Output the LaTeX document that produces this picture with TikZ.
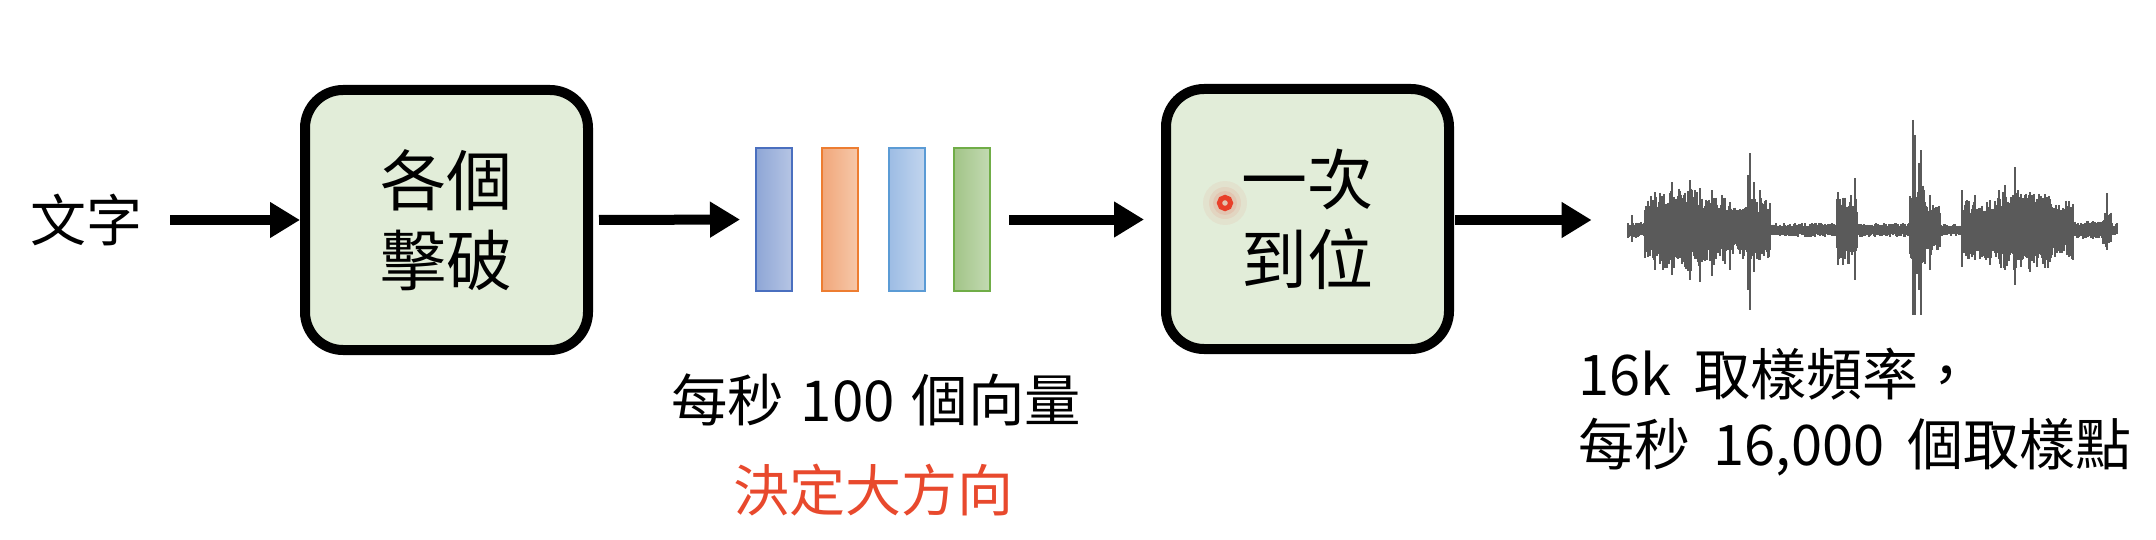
\documentclass[tikz,border=0pt]{standalone}
\usepackage{fontspec}
\newfontfamily\cjk{Noto Sans CJK TC}
\newfontfamily\cjkw{Noto Sans CJK TC}[WordSpace=1.35]
\usetikzlibrary{arrows.meta,shadings}
\definecolor{boxfill}{HTML}{E2EDD9}
\definecolor{capred}{HTML}{E8492D}
\definecolor{wavegray}{HTML}{5A5A5A}
\definecolor{dotred}{HTML}{E8402A}
\definecolor{blueA}{HTML}{8EA6D6}\definecolor{blueB}{HTML}{B6C5E4}\definecolor{blueE}{HTML}{4A6FBF}
\definecolor{oraA}{HTML}{F1A77A}\definecolor{oraB}{HTML}{F6C8AA}\definecolor{oraE}{HTML}{ED7D31}
\definecolor{lbA}{HTML}{9CBCE4}\definecolor{lbB}{HTML}{C2D5EE}\definecolor{lbE}{HTML}{5B9BD5}
\definecolor{grA}{HTML}{A2C487}\definecolor{grB}{HTML}{C3DAB3}\definecolor{grE}{HTML}{70AD47}
\tikzset{
  flowarrow/.style={line width=5pt,-{Triangle[length=15pt,width=17pt]}},
  bigbox/.style={draw=black,line width=5pt,rounded corners=19pt,fill=boxfill,
    minimum width=141.5pt,minimum height=130pt,inner sep=0pt,align=center,
    font=\cjk\fontsize{33}{40}\selectfont},
  vecbar/.style={line width=1pt,minimum width=18pt,minimum height=71.5pt,inner sep=0pt},
  wave/.style={wavegray,line width=0.8pt},
  captext/.style={inner sep=0pt,font=\cjk\fontsize{28}{34}\selectfont},
  capwide/.style={inner sep=0pt,font=\cjkw\fontsize{28.2}{34}\selectfont},
  righttext/.style={inner sep=0pt,align=left,font=\cjkw\fontsize{28}{35}\selectfont},
}
\begin{document}
\begin{tikzpicture}[x=0.5pt,y=-0.5pt]
\useasboundingbox (0,0) rectangle (2156,540);
% input text
\node[captext] (txt) at (86,220) {文字};
% boxes
\node[bigbox] (b1) at (446.5,220) {各個\\擊破};
\node[bigbox] (b2) at (1307.5,219) {一次\\到位};
% vector bars
\node[vecbar,draw=blueE,left color=blueA,right color=blueB] (v1) at (774,219.5) {};
\node[vecbar,draw=oraE,left color=oraA,right color=oraB] (v2) at (840,219.5) {};
\node[vecbar,draw=lbE,left color=lbA,right color=lbB] (v3) at (906.5,219.5) {};
\node[vecbar,draw=grE,left color=grA,right color=grB] (v4) at (972,219.5) {};
% waveform region
\node[inner sep=0pt,minimum width=244.5pt,minimum height=100pt] (wav) at (1872.5,230) {};
\begin{scope}
\pgfmathsetseed{11}
\draw[wavegray,line width=2.5pt] (1628,230) -- (2117,230);
\foreach \a/\b/\amp in {1628/1645/8, 1645/1660/36, 1660/1700/42, 1700/1725/35, 1725/1743/25,
  1743/1770/32, 1770/1837/7, 1837/1857/35, 1857/1910/7, 1910/1925/45, 1925/1940/26, 1940/1962/6,
  1962/1998/30, 1998/2050/40, 2050/2073/30, 2073/2103/9, 2103/2111/18, 2111/2117/7}{
  \foreach \x in {\a,...,\b}{
    \pgfmathsetmacro\h{\amp*(0.5+0.5*rnd)}
    \pgfmathsetmacro\d{\amp*(0.5+0.5*rnd)}
    \draw[wave] (\x,230-\h) -- (\x,230+\d);
  }
}
\foreach \x/\t/\bb in {1632/15/12, 1655/38/40, 1672/48/45, 1690/50/50, 1700/42/52, 1712/40/46,
  1730/28/40, 1748/55/60, 1750/77/80, 1754/48/42, 1760/40/30, 1838/38/35, 1855/52/50,
  1913/110/85, 1915/95/85, 1919/67/60, 1921/80/85, 1930/35/40, 1962/40/37, 1975/35/30,
  1990/30/35, 2005/45/40, 2015/63/55, 2030/38/42, 2045/36/38, 2107/37/20}{
  \draw[wave] (\x,230-\t) -- (\x,230+\bb);
}
\end{scope}
% laser pointer dot
\fill[dotred,opacity=0.06] (1225,203) circle (11pt);
\fill[dotred,opacity=0.08] (1225,203) circle (8pt);
\fill[dotred,opacity=0.10] (1225,203) circle (6pt);
\draw[dotred,line width=2.5pt] (1225,203) circle (2.8pt);
% captions
\node[capwide] (c1) at (876,400) {每秒 100 個向量};
\node[captext,text=capred] (c2) at (873,490) {決定大方向};
\node[righttext,anchor=west] (c3) at (1578,412) {16k 取樣頻率，\\每秒 16,000 個取樣點};
% arrows
\draw[flowarrow,shorten <=14pt] (txt.east) -- (b1.west);
\draw[flowarrow,shorten <=3pt,shorten >=7.5pt] (b1.east) -- (v1.west);
\draw[flowarrow,shorten <=9pt,shorten >=8.5pt] (v4.east) -- (b2.west |- v4.east);
\draw[flowarrow,shorten <=0.5pt,shorten >=18pt] (b2.east |- txt.east) -- (wav.west |- txt.east);
\end{tikzpicture}
\end{document}
